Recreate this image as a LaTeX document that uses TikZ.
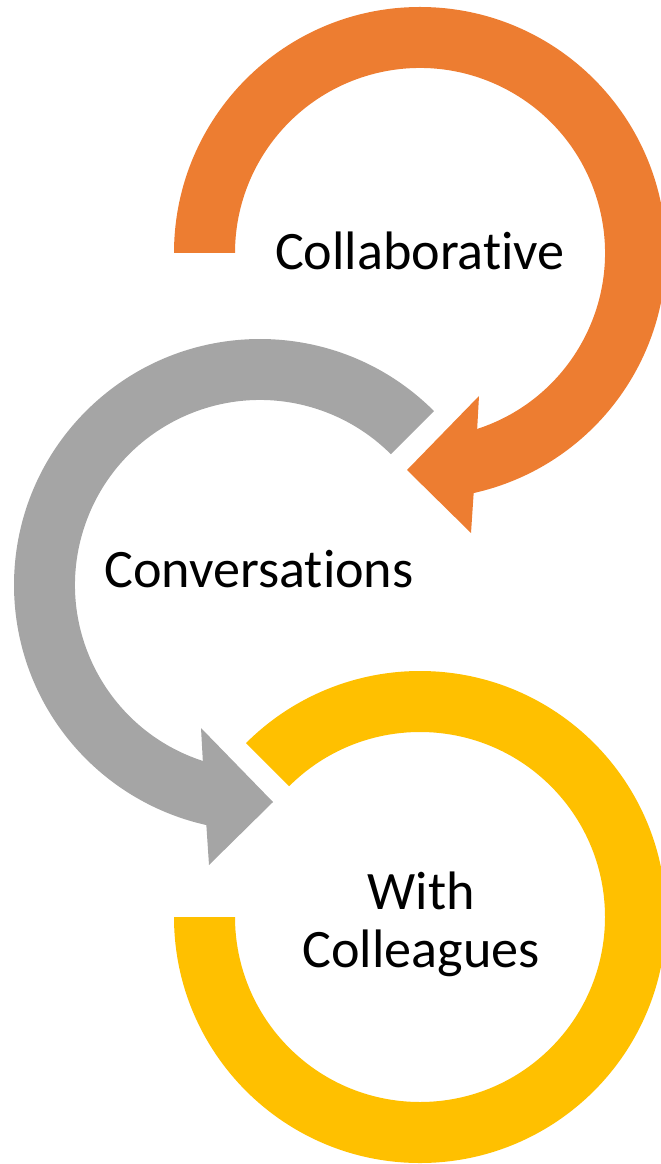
\documentclass[tikz,border=0pt]{standalone}
\usepackage{fontspec}
\setmainfont{Carlito}[Ligatures={NoCommon,NoRequired,NoContextual}, Contextuals=NoAlternate]
\usepackage{tikz}
\usetikzlibrary{positioning}
\definecolor{ringorange}{HTML}{ED7D31}
\definecolor{ringgray}{HTML}{A5A5A5}
\definecolor{ringyellow}{HTML}{FFC000}

\begin{document}
\begin{tikzpicture}[x=0.01cm, y=0.01cm, lbl/.style={font=\fontsize{15.4}{16.4}\selectfont, inner sep=0pt, align=center}]
\useasboundingbox (0,0) rectangle (660,-1164);

% Orange ring with arrow head
\begin{scope}[shift={(420,-253)}]
\fill[ringorange] (180:246) arc[start angle=180, end angle=-77.4, radius=246] -- (51,-280) -- (-13,-217) -- (59,-143) -- (-72:185) arc[start angle=-72, end angle=180, radius=185] -- cycle;
\end{scope}

% Gray ring with arrow head
\begin{scope}[shift={(260,-585)}]
\fill[ringgray] (45:246) arc[start angle=45, end angle=257.4, radius=246] -- (-51,-280) -- (13,-217) -- (-59,-143) -- (252:185) arc[start angle=252, end angle=45, radius=185] -- cycle;
\end{scope}

% Yellow ring, no head
\begin{scope}[shift={(420,-917)}]
\fill[ringyellow] (180:246) arc[start angle=180, end angle=495, radius=246] -- (135:185) arc[start angle=135, end angle=-180, radius=185] -- cycle;
\end{scope}

% Labels
\node[lbl, anchor=base] (collab) at (420,-270) {Collaborative};
\node[lbl, anchor=base] (conv) at (259,-587) {Conversations};
\node[lbl, anchor=base] (with) at (421,-967) {With\\Colleagues};
\end{tikzpicture}
\end{document}
